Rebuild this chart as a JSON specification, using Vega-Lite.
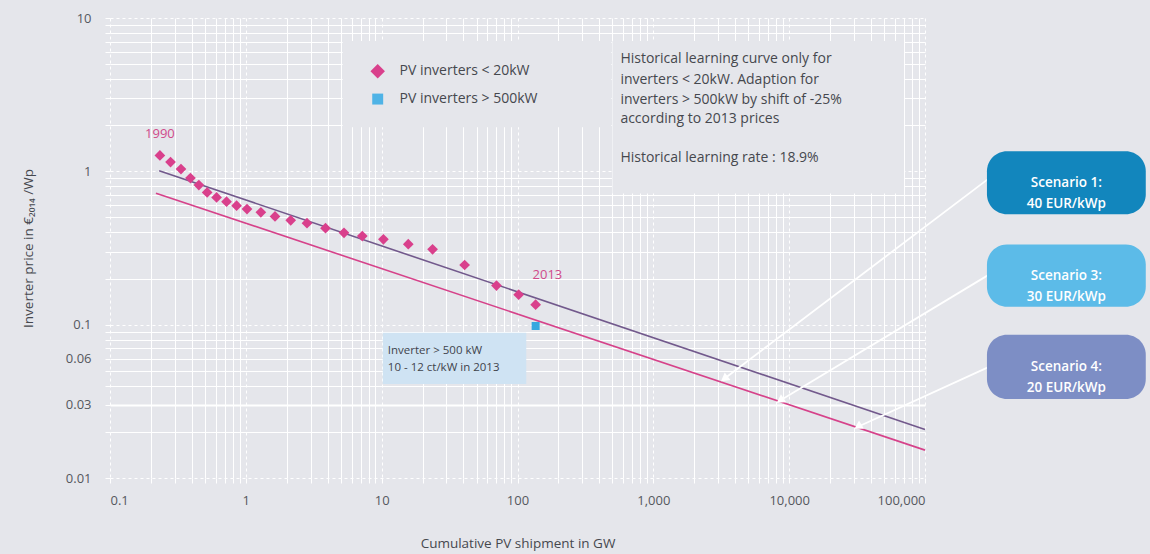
{
  "$schema": "https://vega.github.io/schema/vega-lite/v6.json",
  "width": 815,
  "height": 460,
  "autosize": {"type": "none"},
  "padding": {"left": 110, "top": 18, "right": 225, "bottom": 76},
  "background": "#e5e6eb",
  "config": {"view": {"stroke": null}, "font": "Open Sans"},
  "resolve": {"scale": {"color": "independent", "shape": "independent", "size": "independent", "angle": "independent"}},
  "datasets": {
    "small": [
      {"x": 0.233, "y": 1.27}, {"x": 0.279, "y": 1.15}, {"x": 0.333, "y": 1.035},
      {"x": 0.391, "y": 0.904}, {"x": 0.451, "y": 0.814}, {"x": 0.519, "y": 0.729},
      {"x": 0.609, "y": 0.676}, {"x": 0.721, "y": 0.634}, {"x": 0.855, "y": 0.597},
      {"x": 1.02, "y": 0.567}, {"x": 1.29, "y": 0.54}, {"x": 1.64, "y": 0.508},
      {"x": 2.14, "y": 0.479}, {"x": 2.82, "y": 0.459}, {"x": 3.86, "y": 0.426},
      {"x": 5.28, "y": 0.397}, {"x": 7.2, "y": 0.378}, {"x": 10.3, "y": 0.36},
      {"x": 15.7, "y": 0.335}, {"x": 23.7, "y": 0.31}, {"x": 40.8, "y": 0.245},
      {"x": 70, "y": 0.18}, {"x": 102, "y": 0.157}, {"x": 136, "y": 0.135}
    ],
    "large": [{"x": 136, "y": 0.098}],
    "curves": [
      {"series": "historical", "x": 0.23, "y": 1.01},
      {"series": "historical", "x": 100000, "y": 0.0207},
      {"series": "shifted", "x": 0.218, "y": 0.72},
      {"series": "shifted", "x": 100000, "y": 0.0152}
    ],
    "panels": [
      {"name": "legend", "x": 5.16, "x2": 491, "y": 7.07, "y2": 1.94},
      {"name": "note", "x": 500, "x2": 70100, "y": 7.07, "y2": 0.718}
    ],
    "bluebox": [{"x": 10.2, "x2": 116, "y": 0.0887, "y2": 0.0411}],
    "bluetext": [
      {"x": 11.1, "y": 0.0676, "text": "Inverter > 500 kW"},
      {"x": 11.1, "y": 0.0524, "text": "10 - 12 ct/kW in 2013"}
    ],
    "pinklabels": [
      {"x": 0.233, "y": 1.745, "text": "1990"},
      {"x": 166, "y": 0.212, "text": "2013"}
    ],
    "legendsym": [
      {"kind": "small", "x": 9.35, "y": 4.5},
      {"kind": "large", "x": 9.35, "y": 2.96}
    ],
    "legendtext": [
      {"x": 13.55, "y": 4.5, "text": "PV inverters < 20kW"},
      {"x": 13.55, "y": 2.96, "text": "PV inverters > 500kW"}
    ],
    "notetext": [
      {"x": 572, "y": 5.4, "text": "Historical learning curve only for"},
      {"x": 572, "y": 3.93, "text": "inverters < 20kW. Adaption for"},
      {"x": 572, "y": 2.91, "text": "inverters > 500kW by shift of -25%"},
      {"x": 572, "y": 2.19, "text": "according to 2013 prices"},
      {"x": 572, "y": 1.216, "text": "Historical learning rate : 18.9%"}
    ],
    "arrows": [
      {"scenario": "s1", "x": 295800, "y": 0.9, "x2": 3330, "y2": 0.0444},
      {"scenario": "s3", "x": 295800, "y": 0.212, "x2": 8590, "y2": 0.032},
      {"scenario": "s4", "x": 295800, "y": 0.0531, "x2": 32100, "y2": 0.0216}
    ],
    "scenarios": [
      {"scenario": "s1", "x": 285800, "x2": 4220000, "y": 1.351, "y2": 0.524, "xm": 1098000, "ym": 0.841, "text": "Scenario 1:\n40 EUR/kWp"},
      {"scenario": "s3", "x": 285800, "x2": 4220000, "y": 0.333, "y2": 0.131, "xm": 1098000, "ym": 0.209, "text": "Scenario 3:\n30 EUR/kWp"},
      {"scenario": "s4", "x": 285800, "x2": 4220000, "y": 0.086, "y2": 0.0328, "xm": 1098000, "ym": 0.0531, "text": "Scenario 4:\n20 EUR/kWp"}
    ]
  },
  "layer": [
    {
      "data": {"name": "panels"},
      "mark": {"type": "rect", "fill": "#e5e6eb"},
      "encoding": {
        "x": {
          "field": "x", "type": "quantitative",
          "scale": {"type": "log", "domain": [0.1, 100000], "nice": false},
          "title": "Cumulative PV shipment in GW",
          "axis": {
            "values": [0.1, 0.2, 0.3, 0.4, 0.5, 0.6, 0.7, 0.8, 0.9, 1, 2, 3, 4, 5, 6, 7, 8, 9, 10, 20, 30, 40, 50, 60, 70, 80, 90, 100, 200, 300, 400, 500, 600, 700, 800, 900, 1000, 2000, 3000, 4000, 5000, 6000, 7000, 8000, 9000, 10000, 20000, 30000, 40000, 50000, 60000, 70000, 80000, 90000, 100000],
            "format": ",~g",
            "labelExpr": "abs(log(datum.value)/LN10 - round(log(datum.value)/LN10)) < 0.001 ? datum.label : ''",
            "labelOverlap": false,
            "labelFontSize": 13,
            "labelColor": "#55585e",
            "labelPadding": 11,
            "domain": false,
            "tickColor": "#ffffff",
            "tickSize": 5,
            "grid": true,
            "gridColor": "#ffffff",
            "gridOpacity": 1,
            "gridWidth": 1,
            "gridDash": {"condition": {"test": "abs(log(datum.value)/LN10 - round(log(datum.value)/LN10)) < 0.001", "value": [3, 3]}, "value": []},
            "titleFontSize": 13.5,
            "titleFontWeight": "normal",
            "titleColor": "#45484e",
            "titleY": 65,
            "titleBaseline": "middle"
          }
        },
        "x2": {"field": "x2"},
        "y": {
          "field": "y", "type": "quantitative",
          "scale": {"type": "log", "domain": [0.01, 10], "nice": false},
          "title": "Inverter price in €₂₀₁₄ /Wp",
          "axis": {
            "values": [0.01, 0.02, 0.03, 0.04, 0.05, 0.06, 0.07, 0.08, 0.09, 0.1, 0.2, 0.3, 0.4, 0.5, 0.6, 0.7, 0.8, 0.9, 1, 2, 3, 4, 5, 6, 7, 8, 9, 10],
            "format": "~g",
            "labelExpr": "indexof(['10','1','0.1','0.06','0.03','0.01'], datum.label) >= 0 ? datum.label : ''",
            "labelOverlap": false,
            "labelFontSize": 13,
            "labelColor": "#55585e",
            "labelPadding": 14,
            "domain": false,
            "tickColor": "#ffffff",
            "tickSize": 5,
            "grid": true,
            "gridColor": "#ffffff",
            "gridOpacity": 1,
            "gridWidth": {"condition": {"test": "abs(datum.value - 0.03) < 0.0001", "value": 2}, "value": 1},
            "gridDash": {"condition": {"test": "abs(log(datum.value)/LN10 - round(log(datum.value)/LN10)) < 0.001", "value": [3, 3]}, "value": []},
            "titleFontSize": 13.5,
            "titleFontWeight": "normal",
            "titleColor": "#45484e",
            "titleX": -82,
            "titleY": 230,
            "titleAngle": -90,
            "titleAlign": "center",
            "titleBaseline": "middle"
          }
        },
        "y2": {"field": "y2"}
      }
    },
    {
      "data": {"name": "bluebox"},
      "mark": {"type": "rect", "fill": "#cfe3f3"},
      "encoding": {
        "x": {"field": "x", "type": "quantitative", "scale": {"type": "log"}},
        "x2": {"field": "x2"},
        "y": {"field": "y", "type": "quantitative", "scale": {"type": "log"}},
        "y2": {"field": "y2"}
      }
    },
    {
      "data": {"name": "bluetext"},
      "mark": {"type": "text", "align": "left", "baseline": "middle", "fontSize": 11.5, "color": "#3f444c"},
      "encoding": {
        "x": {"field": "x", "type": "quantitative", "scale": {"type": "log"}},
        "y": {"field": "y", "type": "quantitative", "scale": {"type": "log"}},
        "text": {"field": "text"}
      }
    },
    {
      "data": {"name": "curves"},
      "transform": [{"filter": "datum.series == 'historical'"}],
      "mark": {"type": "line", "strokeWidth": 1.6, "color": "#72598c"},
      "encoding": {
        "x": {"field": "x", "type": "quantitative", "scale": {"type": "log"}},
        "y": {"field": "y", "type": "quantitative", "scale": {"type": "log"}}
      }
    },
    {
      "data": {"name": "curves"},
      "transform": [{"filter": "datum.series == 'shifted'"}],
      "mark": {"type": "line", "strokeWidth": 1.6, "color": "#d6428a"},
      "encoding": {
        "x": {"field": "x", "type": "quantitative", "scale": {"type": "log"}},
        "y": {"field": "y", "type": "quantitative", "scale": {"type": "log"}}
      }
    },
    {
      "data": {"name": "arrows"},
      "mark": {"type": "rule", "color": "#ffffff", "strokeWidth": 1.8},
      "encoding": {
        "x": {"field": "x", "type": "quantitative", "scale": {"type": "log"}},
        "x2": {"field": "x2"},
        "y": {"field": "y", "type": "quantitative", "scale": {"type": "log"}},
        "y2": {"field": "y2"}
      }
    },
    {
      "data": {"name": "arrows"},
      "mark": {"type": "point", "shape": "triangle-up", "filled": true, "color": "#ffffff", "opacity": 1, "size": 90},
      "encoding": {
        "x": {"field": "x2", "type": "quantitative", "scale": {"type": "log"}},
        "y": {"field": "y2", "type": "quantitative", "scale": {"type": "log"}},
        "angle": {"field": "scenario", "type": "nominal", "scale": {"domain": ["s1", "s3", "s4"], "range": [233, 239, 245]}, "legend": null}
      }
    },
    {
      "data": {"name": "small"},
      "mark": {"type": "point", "shape": "diamond", "filled": true, "color": "#d9408c", "opacity": 1, "size": 115},
      "encoding": {
        "x": {"field": "x", "type": "quantitative", "scale": {"type": "log"}},
        "y": {"field": "y", "type": "quantitative", "scale": {"type": "log"}}
      }
    },
    {
      "data": {"name": "large"},
      "mark": {"type": "square", "color": "#36a8df", "opacity": 1, "size": 64},
      "encoding": {
        "x": {"field": "x", "type": "quantitative", "scale": {"type": "log"}},
        "y": {"field": "y", "type": "quantitative", "scale": {"type": "log"}}
      }
    },
    {
      "data": {"name": "legendsym"},
      "transform": [{"filter": "datum.kind == 'small'"}],
      "mark": {"type": "point", "shape": "diamond", "filled": true, "color": "#d9408c", "opacity": 1, "size": 210},
      "encoding": {
        "x": {"field": "x", "type": "quantitative", "scale": {"type": "log"}},
        "y": {"field": "y", "type": "quantitative", "scale": {"type": "log"}}
      }
    },
    {
      "data": {"name": "legendsym"},
      "transform": [{"filter": "datum.kind == 'large'"}],
      "mark": {"type": "square", "color": "#4fb3e6", "opacity": 1, "size": 120},
      "encoding": {
        "x": {"field": "x", "type": "quantitative", "scale": {"type": "log"}},
        "y": {"field": "y", "type": "quantitative", "scale": {"type": "log"}}
      }
    },
    {
      "data": {"name": "legendtext"},
      "mark": {"type": "text", "align": "left", "baseline": "middle", "fontSize": 14, "color": "#45484e"},
      "encoding": {
        "x": {"field": "x", "type": "quantitative", "scale": {"type": "log"}},
        "y": {"field": "y", "type": "quantitative", "scale": {"type": "log"}},
        "text": {"field": "text"}
      }
    },
    {
      "data": {"name": "notetext"},
      "mark": {"type": "text", "align": "left", "baseline": "middle", "fontSize": 14, "color": "#45484e"},
      "encoding": {
        "x": {"field": "x", "type": "quantitative", "scale": {"type": "log"}},
        "y": {"field": "y", "type": "quantitative", "scale": {"type": "log"}},
        "text": {"field": "text"}
      }
    },
    {
      "data": {"name": "pinklabels"},
      "mark": {"type": "text", "align": "center", "baseline": "middle", "fontSize": 13, "color": "#d04a8a"},
      "encoding": {
        "x": {"field": "x", "type": "quantitative", "scale": {"type": "log"}},
        "y": {"field": "y", "type": "quantitative", "scale": {"type": "log"}},
        "text": {"field": "text"}
      }
    },
    {
      "data": {"name": "scenarios"},
      "mark": {"type": "rect", "cornerRadius": 20},
      "encoding": {
        "x": {"field": "x", "type": "quantitative", "scale": {"type": "log"}},
        "x2": {"field": "x2"},
        "y": {"field": "y", "type": "quantitative", "scale": {"type": "log"}},
        "y2": {"field": "y2"},
        "color": {"field": "scenario", "type": "nominal", "scale": {"domain": ["s1", "s3", "s4"], "range": ["#1286bd", "#5cbbe8", "#7d8ec5"]}, "legend": null}
      }
    },
    {
      "data": {"name": "scenarios"},
      "mark": {"type": "text", "align": "center", "baseline": "middle", "lineBreak": "\n", "lineHeight": 21, "fontSize": 13.5, "fontWeight": 600, "color": "#ffffff"},
      "encoding": {
        "x": {"field": "xm", "type": "quantitative", "scale": {"type": "log"}},
        "y": {"field": "ym", "type": "quantitative", "scale": {"type": "log"}},
        "text": {"field": "text"}
      }
    }
  ]
}
